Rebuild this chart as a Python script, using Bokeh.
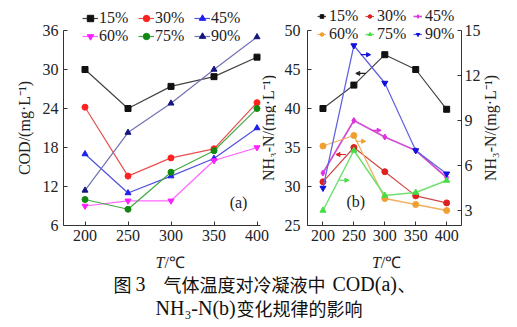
import math
from bokeh.plotting import figure
from bokeh.models import (Range1d, LinearAxis, FixedTicker, Legend, LegendItem,
                          Label, Arrow, NormalHead)
from bokeh.layouts import row, column
from bokeh.embed import file_html
from bokeh.resources import INLINE
from bokeh.core.properties import value

# ---------------- data ----------------
T = [200, 250, 300, 350, 400]
names = ["15%", "30%", "45%", "60%", "75%", "90%"]

cod_15 = [30.0, 24.0, 27.4, 28.9, 31.9]
cod_30 = [24.2, 13.6, 16.4, 17.8, 24.9]
cod_45 = [17.0, 11.0, 13.6, 16.3, 21.0]
cod_60 = [9.0, 9.8, 9.8, 16.0, 18.0]
cod_75 = [10.0, 8.5, 14.2, 17.5, 24.0]
cod_90 = [11.4, 20.3, 24.8, 30.0, 35.0]

# NH3-N: 15% and 30% on left axis, others on right axis
nh_15 = [40.0, 43.0, 46.9, 45.0, 39.9]
nh_30 = [30.6, 35.0, 31.9, 28.8, 27.9]
nh_45 = [5.5, 9.0, 7.9, 7.0, 5.2]
nh_60 = [7.3, 8.0, 3.8, 3.4, 3.0]
nh_75 = [3.0, 7.0, 4.0, 4.2, 5.0]
nh_90 = [4.5, 14.0, 11.5, 7.0, 5.45]

cod_ticks = [6, 12, 18, 24, 30, 36]
nh_left_ticks = [25, 30, 35, 40, 45, 50]
nh_right_ticks = [3, 6, 9, 12, 15]

FONT = "Liberation Serif"
CJK = "Noto Sans CJK SC"
TXT = "#222222"


def style_axis(ax, size="16px"):
    ax.major_label_text_font = FONT
    ax.major_label_text_font_size = size
    ax.major_label_text_color = TXT
    ax.axis_line_color = "#333333"
    ax.major_tick_line_color = "#333333"
    ax.major_tick_in = 4
    ax.major_tick_out = 0
    ax.minor_tick_line_color = None
    ax.axis_label_text_font = FONT
    ax.axis_label_text_font_size = "16px"
    ax.axis_label_text_font_style = "normal"
    ax.axis_label_text_color = TXT


def make_legend(items, loc, gw, lw, stand):
    return Legend(items=items, location=loc, orientation="horizontal", ncols=3,
                  glyph_width=gw, glyph_height=16, label_height=16, label_width=lw,
                  label_standoff=stand, spacing=0, padding=0, margin=0,
                  label_text_font=FONT, label_text_font_size="16px",
                  label_text_line_height=1.0, label_text_color=TXT,
                  background_fill_alpha=0, border_line_color=None)


def label(p, x, y, text, **kw):
    opts = dict(text_font=FONT, text_font_size="16px", text_align="center",
                text_baseline="middle", text_color=TXT)
    opts.update(kw)
    p.add_layout(Label(x=x, y=y, text=text, **opts))


# ---------------- left panel: COD ----------------
# the frame fills the canvas; axes sit at fixed locations and are bounded
p1 = figure(width=276, height=270,
            x_range=Range1d(175 - 63 / 0.86, 175 + 213 / 0.86),
            y_range=Range1d(6 - 45 / 6.5, 6 + 225 / 6.5),
            output_backend="svg", toolbar_location=None,
            min_border=0, min_border_left=0, min_border_right=0,
            min_border_top=0, min_border_bottom=0)
p1.outline_line_color = None
p1.grid.visible = False
p1.xaxis.ticker = FixedTicker(ticks=T)
p1.yaxis.ticker = FixedTicker(ticks=cod_ticks)
p1.xaxis.fixed_location = 6
p1.yaxis.fixed_location = 175
p1.xaxis.bounds = (175, 404)
p1.yaxis.bounds = (6, 36)
style_axis(p1.xaxis[0])
style_axis(p1.yaxis[0])
p1.xaxis.major_label_standoff = 4
p1.yaxis.major_label_standoff = 5
p1.yaxis.axis_label = "COD/(mg·L⁻¹)"
p1.yaxis.axis_label_standoff = 7

cod_series = [cod_15, cod_30, cod_45, cod_60, cod_75, cod_90]
cod_mcol = ["#111111", "#ff2020", "#2020ee", "#ff20ff", "#118811", "#151580"]
cod_lcol = ["#444444", "#e85050", "#5050e0", "#ff66ff", "#44aa44", "#7272b4"]
cod_mark = ["square", "circle", "triangle", "inverted_triangle", "circle", "triangle"]

items1 = []
for nm, ys, mc, lc, mk in zip(names, cod_series, cod_mcol, cod_lcol, cod_mark):
    lr = p1.line(T, ys, line_color=lc, line_width=1.2)
    sr = p1.scatter(T, ys, marker=mk, size=6, fill_color=mc, line_color=mc)
    items1.append(LegendItem(label=nm, renderers=[lr, sr]))

p1.add_layout(make_legend(items1, (82, 225), 16, 39, 1), "center")

label(p1, 378.5, 9.5, "(a)")
label(p1, 292.4, 0.3, "T", text_font_style="italic", text_align="right")
label(p1, 292.4, 0.3, "/℃", text_align="left")
# left y-axis title of the right panel (it sits in the gap between the panels)
label(p1, 413.4, 21, "NH₃-N/(mg·L⁻¹)", angle=math.pi / 2)

# ---------------- right panel: NH3-N ----------------
XS = 154 / 249.0
p2 = figure(width=241, height=270,
            x_range=Range1d(175 - 31 / XS, 175 + 210 / XS),
            y_range=Range1d(25 - 45 / 7.8, 25 + 225 / 7.8),
            output_backend="svg", toolbar_location=None,
            min_border=0, min_border_left=0, min_border_right=0,
            min_border_top=0, min_border_bottom=0)
p2.outline_line_color = None
p2.grid.visible = False
p2.extra_y_ranges = {"r": Range1d(2 - 45 / 15.0, 2 + 225 / 15.0)}
p2.xaxis.ticker = FixedTicker(ticks=T)
p2.yaxis.ticker = FixedTicker(ticks=nh_left_ticks)
p2.xaxis.fixed_location = 25
p2.yaxis.fixed_location = 175
p2.xaxis.bounds = (175, 424)
p2.yaxis.bounds = (25, 50)
style_axis(p2.xaxis[0])
style_axis(p2.yaxis[0])
p2.xaxis.major_label_standoff = 4
p2.yaxis.major_label_standoff = 7
rax = LinearAxis(y_range_name="r", ticker=FixedTicker(ticks=nh_right_ticks),
                 bounds=(2, 15), fixed_location=424)
style_axis(rax)
rax.major_label_standoff = 3
p2.add_layout(rax, "right")

nh_series = [nh_15, nh_30, nh_45, nh_60, nh_75, nh_90]
nh_axis = ["default", "default", "r", "r", "r", "r"]
nh_mcol = ["#111111", "#dd2020", "#e030e0", "#f0a030", "#44dd44", "#1010dd"]
nh_lcol = ["#444444", "#d04848", "#d050d0", "#f0b060", "#70e070", "#6060e0"]
nh_lw = [1.2, 1.2, 1.7, 1.3, 1.5, 1.2]
nh_mark = ["square", "circle", "diamond", "circle", "triangle", "inverted_triangle"]

items2 = []
for nm, ys, ax, mc, lc, w, mk in zip(names, nh_series, nh_axis, nh_mcol, nh_lcol, nh_lw, nh_mark):
    lr = p2.line(T, ys, line_color=lc, line_width=w, y_range_name=ax)
    sr = p2.scatter(T, ys, marker=mk, size=6, fill_color=mc, line_color=mc, y_range_name=ax)
    items2.append(LegendItem(label=nm, renderers=[lr, sr]))

p2.add_layout(make_legend(items2, (41, 227), 9, 36, 3), "center")

# axis-indicating arrows (x_start, x_end, y in left-axis units)
arrows = [
    (269, 253, 44.5, "#222222"),
    (237, 221, 34.1, "#dd2020"),
    (279, 294, 37.2, "#e030e0"),
    (253, 269, 35.8, "#f0a030"),
    (226, 242, 30.8, "#44dd44"),
    (261, 277, 46.9, "#1010dd"),
]
for xs, xe, yy, c in arrows:
    p2.add_layout(Arrow(end=NormalHead(size=4, fill_color=c, line_color=c),
                        x_start=xs, y_start=yy, x_end=xe, y_end=yy,
                        line_color=c, line_width=1.2))

label(p2, 253, 28.1, "(b)")
label(p2, 293.5, 20.26, "T", text_font_style="italic", text_align="right")
label(p2, 293.5, 20.26, "/℃", text_align="left")
# right y-axis title, reading bottom to top
label(p2, 175 + 183 / XS, 37.5, "NH₃-N/(mg·L⁻¹)", angle=math.pi / 2)

# ---------------- caption ----------------
p3 = figure(width=517, height=57, x_range=Range1d(0, 517), y_range=Range1d(57, 0),
            output_backend="svg", toolbar_location=None, min_border=0,
            x_axis_type=None, y_axis_type=None)
p3.outline_line_color = None
p3.grid.visible = False

cap_cjk_x = [113, 163, 397, 236]
cap_cjk_y = [13, 13, 13, 37]
cap_cjk_t = ["图", "气体温度对冷凝液中", "、", "变化规律的影响"]
cap_lat_x = [135, 332, 155]
cap_lat_y = [13, 13, 37]
cap_lat_t = ["3", "COD(a)", "NH₃-N(b)"]

p3.text(x=cap_cjk_x, y=cap_cjk_y, text=cap_cjk_t, text_font=value(CJK),
        text_font_size="18px", text_baseline="middle", text_align="left",
        text_color="#111111")
p3.text(x=cap_lat_x, y=cap_lat_y, text=cap_lat_t, text_font=value(FONT),
        text_font_size="20px", text_baseline="middle", text_align="left",
        text_color="#111111")

layout = column(row(p1, p2), p3)
open("out.html", "w").write(file_html(layout, INLINE))
